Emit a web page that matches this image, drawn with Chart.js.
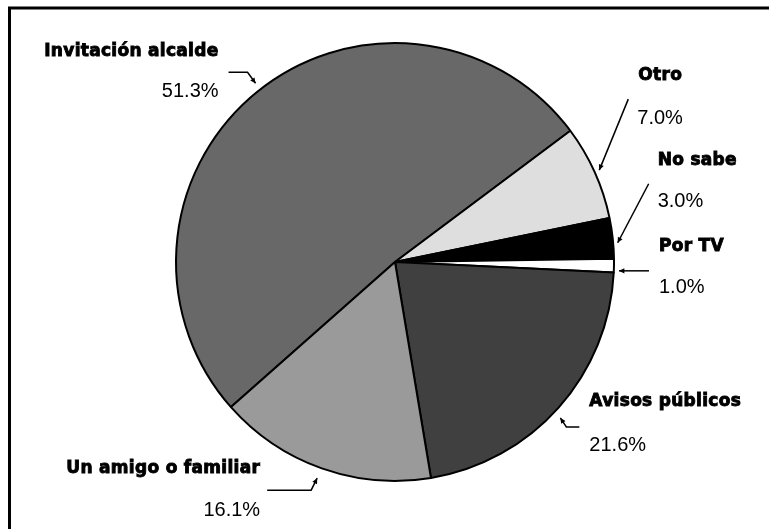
<!DOCTYPE html>
<html>
<head>
<meta charset="utf-8">
<script src="https://cdn.jsdelivr.net/npm/chart.js@4"></script>
<style>
  body { margin: 0; background: #fff; }
  #pie { display: block; }
</style>
</head>
<body>
<canvas id="pie" width="769" height="529"></canvas>
<script>
// chart data
const categories = ['Invitación alcalde', 'Otro', 'No sabe', 'Por TV', 'Avisos públicos', 'Un amigo o familiar'];
const shares = [51.3, 7.0, 3.0, 1.0, 21.6, 16.1];
const shareLabels = ['51.3%', '7.0%', '3.0%', '1.0%', '21.6%', '16.1%'];

// look
const sliceColors = ['#686868', '#dedede', '#000000', '#ffffff', '#404040', '#9a9a9a'];

// where each label sits relative to the tip of its leader (tip = rim at mid angle, nudged by tipShift)
// start/bend = leader line points, label/pct = text anchor, align = text side
const labelLayout = [
  { tipShift: [2, -5], start: [-27, -11], bend: [-8, -11], label: [-37, -32], pct: [-37, 8], align: 'right' },
  { tipShift: [0, 0], start: [29, -71], bend: null, label: [39, -95], pct: [38, -52], align: 'left' },
  { tipShift: [0, 5], start: [31, -59], bend: null, label: [40, -82], pct: [40, -41], align: 'left' },
  { tipShift: [0, 5], start: [30, 0], bend: null, label: [40, -24], pct: [40, 17], align: 'left' },
  { tipShift: [-2, 7], start: [19, 9], bend: [6, 9], label: [29, -16], pct: [29, 28], align: 'left' },
  { tipShift: [-3, 5], start: [-50, 12], bend: [-6, 12], label: [-57, -10], pct: [-57, 32], align: 'right' }
];

// frame round the chart, only top and left show in the window
const framePlugin = {
  id: 'frame',
  beforeDraw(chart) {
    const ctx = chart.ctx;
    ctx.save();
    ctx.strokeStyle = '#000';
    ctx.lineWidth = 3;
    ctx.strokeRect(9.5, 8, 900, 700);
    ctx.restore();
  }
};

function arrowTo(ctx, fromX, fromY, toX, toY) {
  const a = Math.atan2(toY - fromY, toX - fromX);
  const size = 6;
  ctx.beginPath();
  ctx.moveTo(toX, toY);
  ctx.lineTo(toX - size * Math.cos(a - 0.45), toY - size * Math.sin(a - 0.45));
  ctx.lineTo(toX - size * Math.cos(a + 0.45), toY - size * Math.sin(a + 0.45));
  ctx.closePath();
  ctx.fill();
}

const labelPlugin = {
  id: 'sliceLabels',
  afterDraw(chart) {
    const ctx = chart.ctx;
    const meta = chart.getDatasetMeta(0);
    ctx.save();
    ctx.strokeStyle = '#000';
    ctx.fillStyle = '#000';
    ctx.textBaseline = 'middle';
    meta.data.forEach((arc, i) => {
      const p = arc.getProps(['x', 'y', 'startAngle', 'endAngle', 'outerRadius'], true);
      const mid = (p.startAngle + p.endAngle) / 2;
      const lay = labelLayout[i];
      const tipX = p.x + Math.cos(mid) * (p.outerRadius + 5) + lay.tipShift[0];
      const tipY = p.y + Math.sin(mid) * (p.outerRadius + 5) + lay.tipShift[1];

      // leader line
      ctx.lineWidth = 1.5;
      ctx.beginPath();
      ctx.moveTo(tipX + lay.start[0], tipY + lay.start[1]);
      let lastX = tipX + lay.start[0], lastY = tipY + lay.start[1];
      if (lay.bend) {
        lastX = tipX + lay.bend[0];
        lastY = tipY + lay.bend[1];
        ctx.lineTo(lastX, lastY);
      }
      ctx.lineTo(tipX, tipY);
      ctx.stroke();
      arrowTo(ctx, lastX, lastY, tipX, tipY);

      // texts - category names are heavy, so fill and stroke them
      ctx.textAlign = lay.align;
      ctx.font = 'bold 17px "DejaVu Sans"';
      ctx.letterSpacing = '0.3px';
      ctx.lineWidth = 0.9;
      ctx.fillText(categories[i], tipX + lay.label[0], tipY + lay.label[1]);
      ctx.strokeText(categories[i], tipX + lay.label[0], tipY + lay.label[1]);
      ctx.letterSpacing = '0px';
      ctx.font = '20px "Liberation Sans", Arial';
      ctx.fillText(shareLabels[i], tipX + lay.pct[0], tipY + lay.pct[1]);
    });
    ctx.restore();
  }
};

const ctxPie = document.getElementById('pie').getContext('2d');
const pieChart = new Chart(ctxPie, {
  type: 'pie',
  data: {
    labels: categories,
    datasets: [{
      data: shares,
      backgroundColor: sliceColors,
      borderColor: '#000',
      borderWidth: 2
    }]
  },
  options: {
    responsive: false,
    devicePixelRatio: 1,
    animation: false,
    events: [],
    rotation: -131.5,
    layout: { padding: { top: 42, bottom: 47, left: 60, right: 39 } },
    plugins: {
      legend: { display: false },
      tooltip: { enabled: false }
    }
  },
  plugins: [framePlugin, labelPlugin]
});
</script>
</body>
</html>
